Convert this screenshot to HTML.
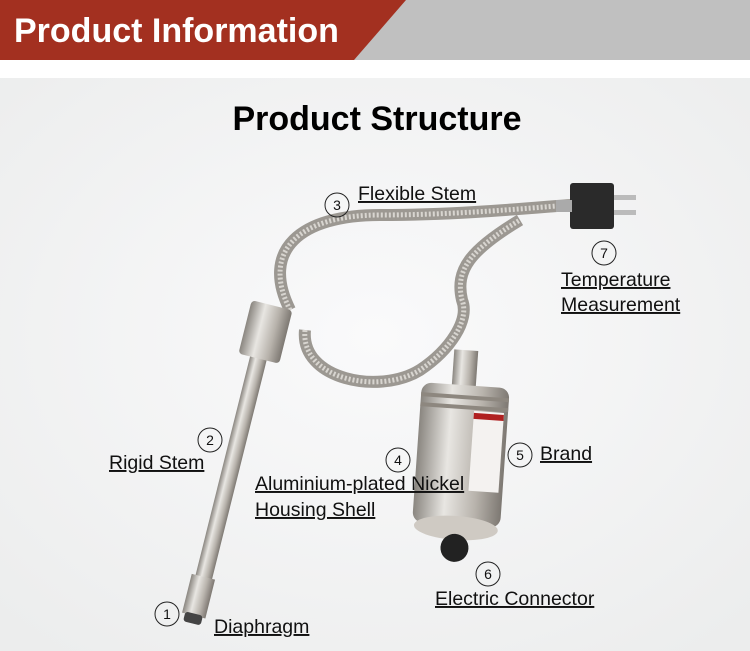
<!DOCTYPE html>
<html><head><meta charset="utf-8"><style>
body{margin:0;width:750px;height:651px;overflow:hidden;background:#fff;font-family:"Liberation Sans",sans-serif}
svg{display:block}
</style></head><body>
<svg width="750" height="651" viewBox="0 0 750 651" xmlns="http://www.w3.org/2000/svg" font-family="Liberation Sans, sans-serif">
<defs>
<radialGradient id="bg" cx="0.5" cy="0.45" r="0.7"><stop offset="0" stop-color="#fafafb"/><stop offset="1" stop-color="#eceded"/></radialGradient>
<linearGradient id="metal" x1="0" x2="1"><stop offset="0" stop-color="#8a8680"/><stop offset="0.35" stop-color="#e8e6e2"/><stop offset="0.7" stop-color="#b8b3ac"/><stop offset="1" stop-color="#7d7872"/></linearGradient>
</defs>
<rect x="0" y="0" width="750" height="60" fill="#c0c0c0"/>
<polygon points="0,0 406,0 354,60 0,60" fill="#a33020"/>
<text x="14" y="42" font-size="34" font-weight="bold" fill="#fff">Product Information</text>
<rect x="0" y="78" width="750" height="573" fill="url(#bg)"/>
<text x="377" y="130" font-size="34" font-weight="bold" text-anchor="middle" fill="#000">Product Structure</text>
<path d="M290,310 C260,250 300,215 380,215 C470,215 560,205 572,205" stroke="#9c9892" stroke-width="12" fill="none"/>
<path d="M290,310 C260,250 300,215 380,215 C470,215 560,205 572,205" stroke="#d8d5d0" stroke-width="5" fill="none" stroke-dasharray="2 2"/>
<path d="M305,330 C300,380 380,395 420,370 C450,350 470,320 462,300 C455,270 470,250 520,220" stroke="#9c9892" stroke-width="12" fill="none"/>
<path d="M305,330 C300,380 380,395 420,370 C450,350 470,320 462,300 C455,270 470,250 520,220" stroke="#d8d5d0" stroke-width="5" fill="none" stroke-dasharray="2 2"/>
<g transform="rotate(14 230 470)">
<rect x="222" y="320" width="17" height="300" fill="url(#metal)"/>
<rect x="218" y="580" width="24" height="40" fill="url(#metal)"/>
<rect x="221" y="618" width="18" height="10" rx="3" fill="#444"/>
<rect x="210" y="300" width="42" height="55" rx="4" fill="url(#metal)"/>
</g>
<g transform="rotate(4 460 440)">
<rect x="448" y="350" width="24" height="40" fill="url(#metal)"/>
<rect x="418" y="385" width="88" height="140" rx="10" fill="url(#metal)"/>
<rect x="418" y="395" width="88" height="4" fill="#8d877f"/>
<rect x="418" y="405" width="88" height="4" fill="#8d877f"/>
<rect x="472" y="410" width="30" height="80" fill="#f4f2f0"/>
<rect x="472" y="412" width="30" height="6" fill="#b02020"/>
<ellipse cx="462" cy="528" rx="42" ry="12" fill="#cfcac3"/>
<circle cx="462" cy="548" r="14" fill="#222"/>
</g>
<rect x="570" y="183" width="44" height="46" rx="3" fill="#2a2a2a"/>
<rect x="614" y="195" width="22" height="5" fill="#bbb"/>
<rect x="614" y="210" width="22" height="5" fill="#bbb"/>
<rect x="556" y="200" width="16" height="12" fill="#aaa"/>
<g fill="none" stroke="#222" stroke-width="1">
<circle cx="337" cy="205" r="12"/><circle cx="604" cy="253" r="12"/><circle cx="210" cy="440" r="12"/>
<circle cx="398" cy="460" r="12"/><circle cx="520" cy="455" r="12"/><circle cx="488" cy="574" r="12"/><circle cx="167" cy="614" r="12"/>
</g>
<g font-size="14" text-anchor="middle" fill="#111">
<text x="337" y="210">3</text><text x="604" y="258">7</text><text x="210" y="445">2</text><text x="398" y="465">4</text><text x="520" y="460">5</text><text x="488" y="579">6</text><text x="167" y="619">1</text>
</g>
<g font-size="19.5" fill="#111" text-decoration="underline">
<text x="358" y="200">Flexible Stem</text>
<text x="561" y="286">Temperature</text>
<text x="561" y="311">Measurement</text>
<text x="109" y="469">Rigid Stem</text>
<text x="255" y="490">Aluminium-plated Nickel</text>
<text x="255" y="516">Housing Shell</text>
<text x="540" y="460">Brand</text>
<text x="435" y="605">Electric Connector</text>
<text x="214" y="633">Diaphragm</text>
</g>
</svg>
</body></html>
